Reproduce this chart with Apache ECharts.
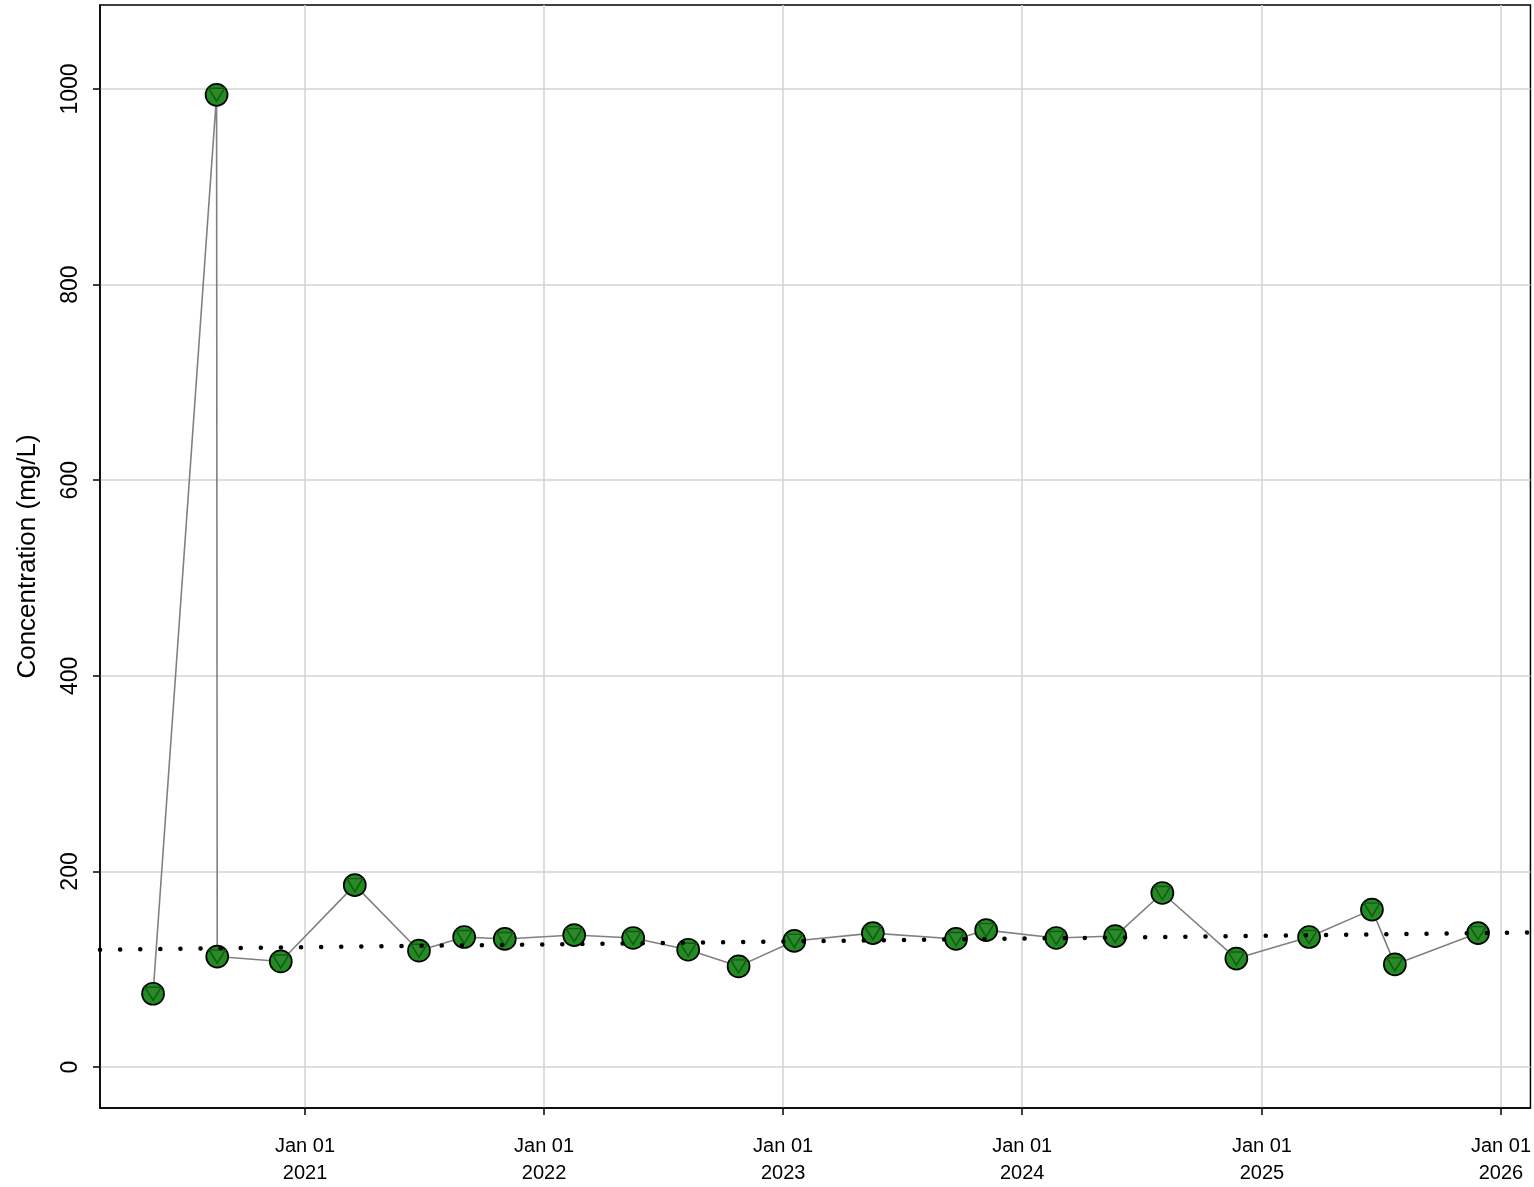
<!DOCTYPE html>
<html>
<head>
<meta charset="utf-8">
<script src="https://cdn.jsdelivr.net/npm/echarts@6/dist/echarts.min.js"></script>
<style>
  html, body { margin: 0; padding: 0; background: #fff; overflow: hidden; }
  #chart { width: 1534px; height: 1187px; }
</style>
</head>
<body>
<div id="chart"></div>
<script>
// sample dates and measured concentration (mg/L)
const sampleDates = ['2020-05-14', '2020-08-19', '2020-08-20', '2020-11-25', '2021-03-18', '2021-06-24',
  '2021-09-01', '2021-11-02', '2022-02-16', '2022-05-17', '2022-08-09', '2022-10-25',
  '2023-01-18', '2023-05-18', '2023-09-22', '2023-11-07', '2024-02-22', '2024-05-22',
  '2024-08-02', '2024-11-23', '2025-03-14', '2025-06-18', '2025-07-23', '2025-11-27']
const concValues = [75, 994, 113, 108, 186, 119, 133, 131, 135, 132, 120, 103,
  129, 137, 131, 140, 132, 134, 178, 111, 133, 161, 105, 137]

// dotted trend line (start / end)
const trendDates = ['2020-02-23', '2026-02-15']
const trendValues = [120, 137.6]

// axis ticks
const xTickDates = ['2021-01-01', '2022-01-01', '2023-01-01', '2024-01-01', '2025-01-01', '2026-01-01']
const yTickValues = [0, 200, 400, 600, 800, 1000]
const xRange = ['2020-02-23', '2026-02-15']
const yRange = [-41.8, 1085.8]

// dates as UTC timestamps so the value axis is timezone independent
function utc(s) {
  const p = s.split('-').map(Number)
  return Date.UTC(p[0], p[1] - 1, p[2])
}

const pts = sampleDates.map((d, i) => [utc(d), concValues[i]])
const trend = trendDates.map((d, i) => [utc(d), trendValues[i]])
const xTicks = xTickDates.map(utc)

const font = 'Liberation Sans, Arial, sans-serif'
const chart = echarts.init(document.getElementById('chart'), null, { renderer: 'canvas' })

const option = {
  animation: false,
  backgroundColor: '#fff',
  grid: {
    left: 100, right: 1.5, top: 5, bottom: 75,
    show: true, borderColor: '#000', borderWidth: 1.5, backgroundColor: 'transparent'
  },
  xAxis: {
    type: 'value',
    min: utc(xRange[0]),
    max: utc(xRange[1]),
    axisLine: { show: true, onZero: false, lineStyle: { color: '#000', width: 1.5 } },
    axisTick: {
      show: true, inside: false, length: 7,
      customValues: xTicks,
      lineStyle: { color: '#000', width: 1.5 }
    },
    axisLabel: {
      customValues: xTicks,
      formatter: function (v) {
        return 'Jan 01\n' + new Date(v).getUTCFullYear()
      },
      color: '#000', fontSize: 20, fontFamily: font, lineHeight: 27, margin: 25
    },
    splitLine: { show: true, lineStyle: { color: '#d3d3d3', width: 1.5 } }
  },
  yAxis: {
    type: 'value',
    min: yRange[0],
    max: yRange[1],
    name: 'Concentration (mg/L)',
    nameLocation: 'middle',
    nameGap: 59,
    nameRotate: 90,
    nameTextStyle: { color: '#000', fontSize: 26, fontFamily: font },
    axisLine: { show: true, onZero: false, lineStyle: { color: '#000', width: 1.5 } },
    axisTick: {
      show: true, inside: false, length: 7,
      customValues: yTickValues,
      lineStyle: { color: '#000', width: 1.5 }
    },
    axisLabel: {
      customValues: yTickValues,
      formatter: v => String(v),
      rotate: 90,
      color: '#000', fontSize: 23, fontFamily: font, margin: 18
    },
    splitLine: { show: true, lineStyle: { color: '#d3d3d3', width: 1.5 } }
  },
  series: [
    {
      name: 'line',
      type: 'line',
      data: pts,
      symbol: 'none',
      lineStyle: { color: '#808080', width: 1.6 },
      z: 2
    },
    {
      name: 'circles',
      type: 'scatter',
      data: pts,
      symbol: 'circle',
      symbolSize: 22,
      itemStyle: { color: '#228B22', borderColor: '#000', borderWidth: 1.7, opacity: 1 },
      z: 3
    },
    {
      name: 'triangles',
      type: 'scatter',
      data: pts,
      symbol: 'triangle',
      symbolRotate: 180,
      symbolSize: [16, 13],
      itemStyle: { color: '#2a8a2a', borderColor: '#145a14', borderWidth: 1.5, opacity: 1 },
      z: 4
    },
    {
      name: 'trend',
      type: 'line',
      data: trend,
      symbol: 'none',
      lineStyle: { color: '#000', width: 4.5, type: [0.1, 20], cap: 'round' },
      z: 5
    }
  ]
}

chart.setOption(option)
</script>
</body>
</html>
